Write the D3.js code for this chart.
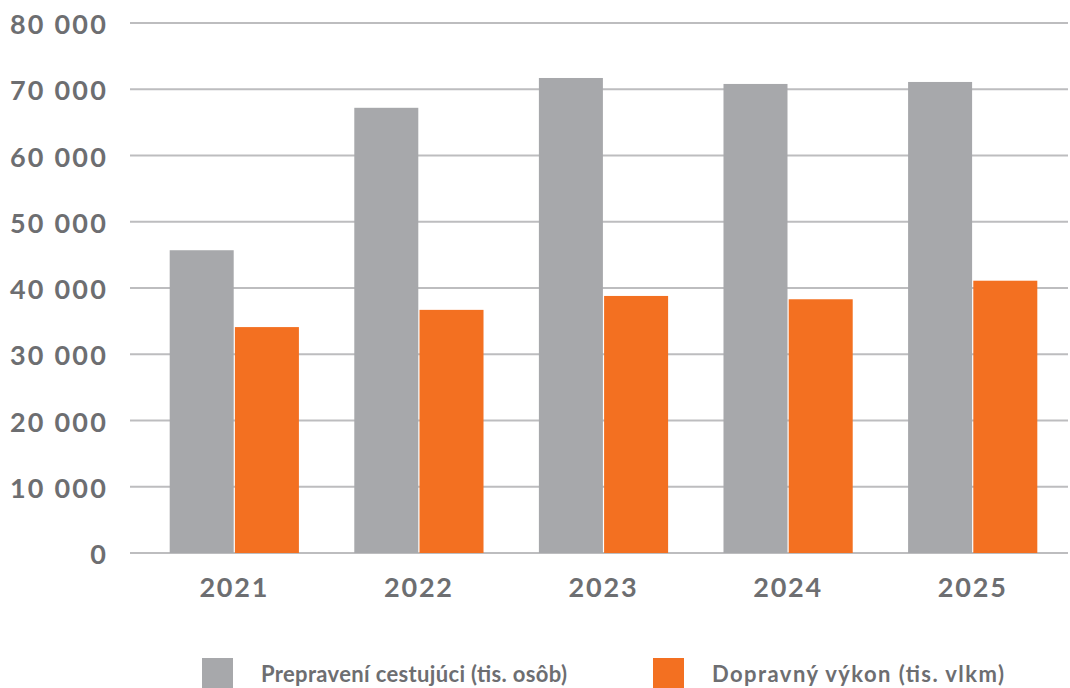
<!DOCTYPE html>
<html>
<head>
<meta charset="utf-8">
<script src="https://cdn.jsdelivr.net/npm/d3@7"></script>
<style>
  body { margin: 0; background: #fff; }
  svg { display: block; font-family: Lato, "Open Sans", sans-serif; }
</style>
</head>
<body>
<svg id="chart" width="1070" height="688"></svg>
<script>
const years = ['2021', '2022', '2023', '2024', '2025'];
const passengers = [45700, 67200, 71700, 70800, 71100]; // Prepravení cestujúci (tis. osôb)
const performance = [34100, 36700, 38800, 38300, 41100]; // Dopravný výkon (tis. vlkm)
const seriesNames = ['Prepravení cestujúci (tis. osôb)', 'Dopravný výkon (tis. vlkm)'];
const yTicks = [0, 10000, 20000, 30000, 40000, 50000, 60000, 70000, 80000];

const colors = ['#a7a8ab', '#f37021'];
const textColor = '#6d6e71';

const svg = d3.select('#chart');

const x0 = d3.scaleBand()
  .domain(years)
  .range([142, 1065])
  .paddingInner(0.3)
  .paddingOuter(0.15);

const x1 = d3.scaleBand()
  .domain([0, 1])
  .range([0, x0.bandwidth()]);

const y = d3.scaleLinear()
  .domain([0, 80000])
  .range([553, 23]);

const fmt = (d) => d3.format(',')(d).replace(/,/g, ' ');

// gridlines
svg.append('g')
  .selectAll('line')
  .data(yTicks)
  .enter()
  .append('line')
  .attr('x1', 130)
  .attr('x2', 1068)
  .attr('y1', (d) => y(d))
  .attr('y2', (d) => y(d))
  .attr('stroke', '#bdbdbf')
  .attr('stroke-width', 2);

// y labels
svg.append('g')
  .selectAll('text')
  .data(yTicks)
  .enter()
  .append('text')
  .attr('x', 108)
  .attr('y', (d) => y(d) + 11)
  .attr('text-anchor', 'end')
  .attr('fill', textColor)
  .style('font-size', '27px')
  .style('font-weight', 700)
  .style('letter-spacing', '2.2px')
  .text(fmt);

const rows = years.map((yr, i) => ({ year: yr, values: [passengers[i], performance[i]] }));

const groups = svg.append('g')
  .selectAll('g')
  .data(rows)
  .enter()
  .append('g')
  .attr('transform', (d) => `translate(${x0(d.year)},0)`);

groups.selectAll('rect')
  .data((d) => d.values.map((v, k) => ({ k, v })))
  .enter()
  .append('rect')
  .attr('x', (d) => x1(d.k) + d.k * 0.6)
  .attr('y', (d) => y(d.v))
  .attr('width', x1.bandwidth() - 0.6)
  .attr('height', (d) => y(0) - y(d.v))
  .attr('fill', (d) => colors[d.k]);

// x labels
svg.append('g')
  .selectAll('text')
  .data(years)
  .enter()
  .append('text')
  .attr('x', (d) => x0(d) + x0.bandwidth() / 2)
  .attr('y', 597)
  .attr('text-anchor', 'middle')
  .attr('fill', textColor)
  .style('font-size', '27px')
  .style('font-weight', 700)
  .style('letter-spacing', '1.8px')
  .text((d) => d);

// legend
const legendX = [202, 653];
const legendTextWidth = [306, 292];
const legend = svg.append('g')
  .selectAll('g')
  .data(seriesNames)
  .enter()
  .append('g')
  .attr('transform', (d, i) => `translate(${legendX[i]},658)`);

legend.append('rect')
  .attr('width', 31)
  .attr('height', 31)
  .attr('fill', (d, i) => colors[i]);

legend.append('text')
  .attr('x', 59)
  .attr('y', 24)
  .attr('fill', textColor)
  .attr('textLength', (d, i) => legendTextWidth[i])
  .attr('lengthAdjust', 'spacing')
  .style('font-size', '22px')
  .style('font-weight', 700)
  .text((d) => d);
</script>
</body>
</html>
